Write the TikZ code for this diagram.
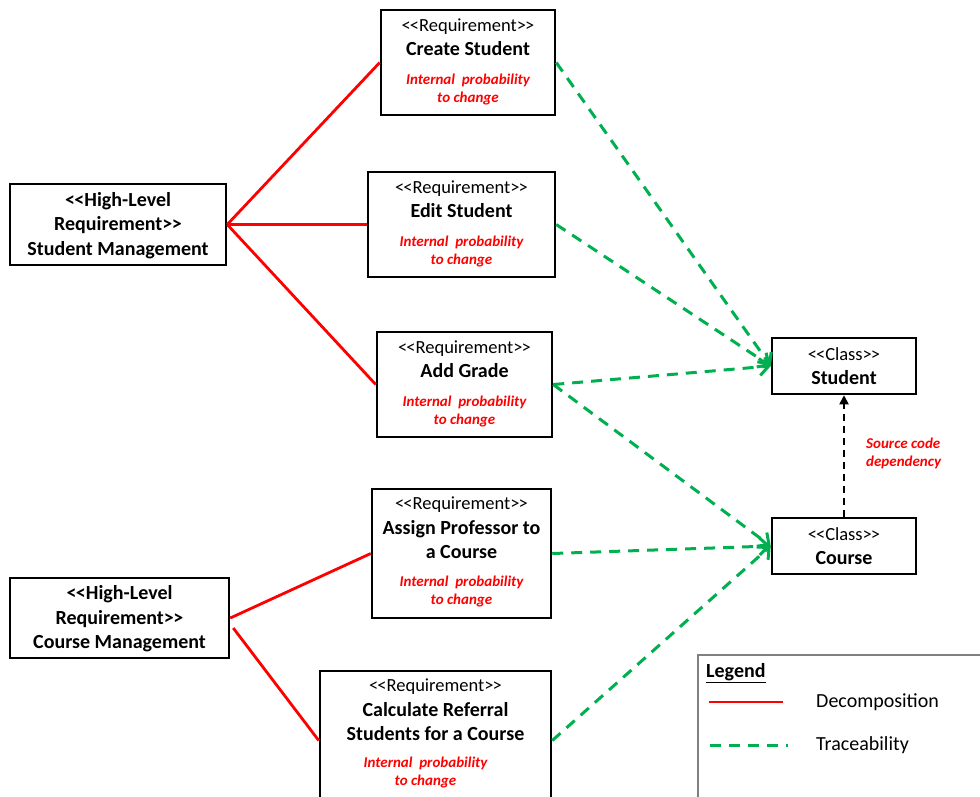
\documentclass[tikz,border=0pt]{standalone}
\usepackage{fontspec}
\setmainfont{Carlito}
\usepackage{xcolor}
\usepackage{tikz}
\usetikzlibrary{arrows.meta,positioning,calc}
\definecolor{tgreen}{RGB}{0,176,80}
\newcommand{\stereo}[1]{{\fontsize{18.5}{24.5}\selectfont<\kern-1pt<#1>\kern-1pt>}}
\tikzset{
  box/.style={draw,line width=2.5pt,inner sep=0pt},
  head/.style={align=center,inner sep=0pt,font=\fontsize{20}{24.5}\selectfont},
  bhead/.style={head,font=\fontsize{20}{24.5}\selectfont\bfseries},
  note/.style={align=center,inner sep=0pt,text=red,font=\fontsize{15}{18}\selectfont\bfseries\itshape},
  decomp/.style={draw=red,line width=2.8pt},
  trace/.style={draw=tgreen,line width=3pt,dash pattern=on 11pt off 8pt,-{Straight Barb[length=9pt,width=17pt,line width=3pt]}},
  dep/.style={line width=1.8pt,dash pattern=on 7pt off 5pt,-{Triangle[length=9pt,width=9pt]}},
}

\begin{document}
\begin{tikzpicture}[x=1pt,y=-1pt]
\useasboundingbox (0,0) rectangle (980,796);
% high-level requirements
\node[box,minimum width=216pt,minimum height=81pt] (hlStud) at (118,224.5) {};
\node[bhead] (hlStudT) at ([yshift=-1pt]hlStud.center) {<\kern-0.5pt<High-Level\\Requirement>\kern-0.5pt>\\Student Management};
\node[box,minimum width=219pt,minimum height=80pt] (hlCourse) at (119.5,618) {};
\node[bhead] (hlCourseT) at ([yshift=-1pt]hlCourse.center) {<\kern-0.5pt<High-Level\\Requirement>\kern-0.5pt>\\Course Management};
% requirements
\foreach \r/\px/\py/\bw/\bh/\lab/\ty/\ny/\sx in {
  rqCreate/468/62.5/174/105/{\textbf{Create Student}}/28.5/81/0,
  rqEdit/461.5/224.5/187/105/{\textbf{Edit Student}}/28.5/81/0,
  rqGrade/464.5/384.5/175/105/{\textbf{Add Grade}}/28.5/81/0,
  rqAssign/461.5/553.5/179/129/{\textbf{Assign Professor to}\\\textbf{a Course}}/40/104/0,
  rqCalc/435.5/740.5/231/139/{\textbf{Calculate Referral}\\\textbf{Students for a Course}}/40/103/-10} {
  \node[box,minimum width=\bw pt,minimum height=\bh pt] (\r) at (\px,\py) {};
  \node[note] (\r-n) at ([xshift=\sx pt,yshift=-\ny pt]\r.north) {Internal\ \ probability\\to change};
  \node[head] (\r-t) at ([yshift=-\ty pt]\r.north) {\stereo{Requirement}\\\lab};
}
% classes
\node[box,minimum width=144pt,minimum height=56pt] (clStud) at (844,366) {};
\node[head] (clStudT) at (clStud.center) {\stereo{Class}\\\textbf{Student}};
\node[box,minimum width=144pt,minimum height=56pt] (clCourse) at (844,546) {};
\node[head] (clCourseT) at (clCourse.center) {\stereo{Class}\\\textbf{Course}};
\node[note,align=left,anchor=west] (depN) at (866,453) {Source code\\dependency};
% decomposition
\foreach \r in {rqCreate,rqEdit,rqGrade} \draw[decomp] (hlStud.east) -- (\r.west);
\coordinate (hlCourseLow) at ([xshift=3pt,yshift=-10pt]hlCourse.east);
\draw[decomp] (hlCourse.east) -- (rqAssign.west);
\draw[decomp] (hlCourseLow) -- (rqCalc.west);
% traceability
\foreach \r in {rqCreate,rqEdit,rqGrade} \draw[trace] (\r.east) -- (clStud.west);
\foreach \r in {rqGrade,rqAssign,rqCalc} \draw[trace] (\r.east) -- (clCourse.west);
\draw[dep] (clCourse.north) -- (clStud.south);
% legend
\node[draw=black!50,line width=1.5pt,minimum width=300pt,minimum height=160pt,anchor=north west] (legend) at (697,654) {};
\node[bhead,anchor=west] (legendT) at (706,673) {\underline{Legend}};
\coordinate (lgA1) at (709,702);
\coordinate (lgA2) at (783,702);
\coordinate (lgB1) at (710,745);
\coordinate (lgB2) at (788,745);
\draw[decomp] (lgA1) -- (lgA2);
\draw[draw=tgreen,line width=3pt,dash pattern=on 11pt off 8pt] (lgB1) -- (lgB2);
\node[head,anchor=west] (lgDecomp) at (816,702) {Decomposition};
\node[head,anchor=west] (lgTrace) at (816,745) {Traceability};
\end{tikzpicture}
\end{document}
